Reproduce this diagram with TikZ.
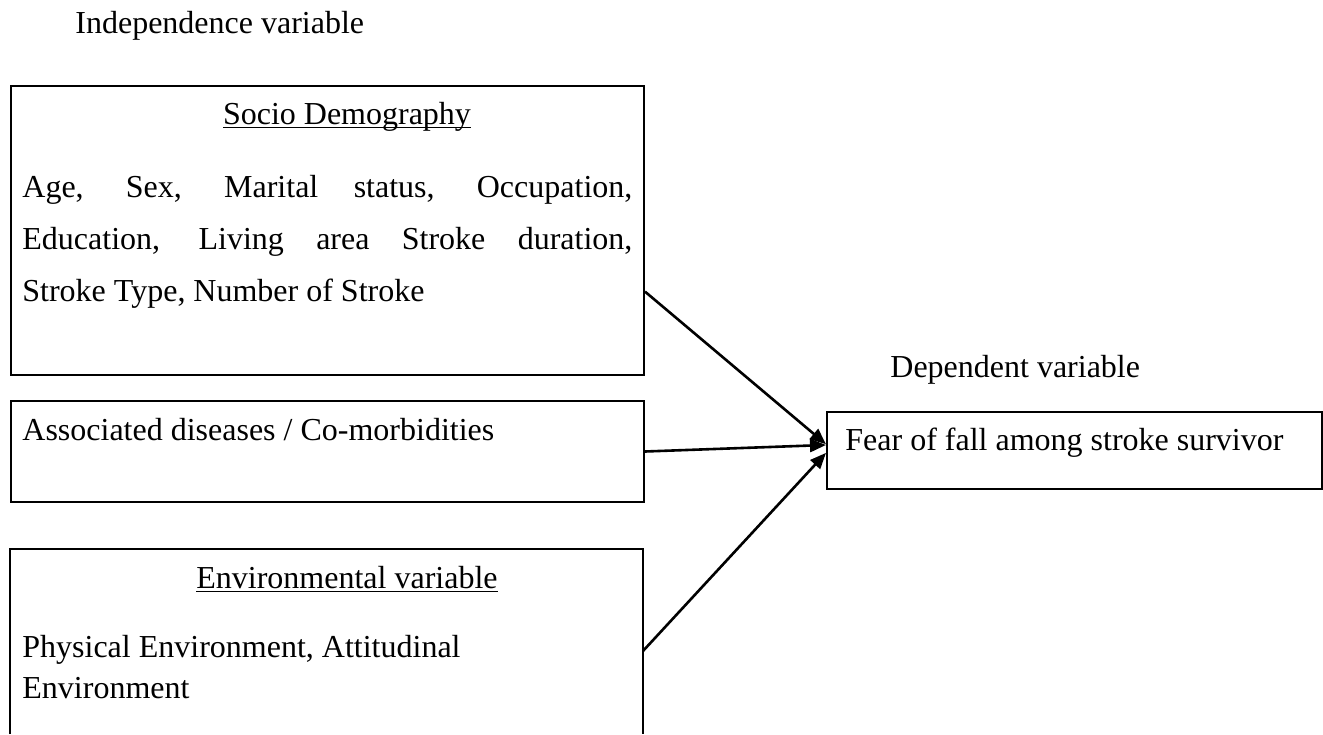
\documentclass[tikz,border=0pt]{standalone}
\usepackage{fontspec}
\setmainfont{Liberation Serif}
\usetikzlibrary{arrows.meta,calc}

% underline close to the baseline, as a word processor sets it
\newcommand\wordul[1]{\setbox0\hbox{#1}\rlap{\rule[-2.2pt]{\wd0}{0.8pt}}\box0}

\begin{document}
\begin{tikzpicture}[x=0.5pt, y=-0.5pt, font=\fontsize{16}{19}\selectfont,
  box/.style={draw, line width=1pt, inner sep=0, anchor=north west},
  txt/.style={inner sep=0, anchor=base west},
  link/.style={line width=1.3pt, -{Triangle[length=8pt, width=6.5pt]}}]
  \useasboundingbox (0,0) rectangle (1323,734);

  % headings
  \node[txt] (indep) at (75,33)  {Independence variable};
  \node[txt] (deph)  at (890,377) {Dependent variable};

  % independent variable boxes
  \node[box, minimum width=316.5pt, minimum height=144.5pt] (socio) at (10,85) {};
  \node[box, minimum width=316.5pt, minimum height=50.5pt]  (assoc) at (10,400) {};
  % environmental box runs off the bottom of the page
  \coordinate (envtl) at (10,549);
  \coordinate (envtr) at (643,549);
  \draw[line width=1pt] (10,734) -- (envtl) -- (envtr) -- (643,734);

  % dependent variable box
  \node[box, minimum width=247.5pt, minimum height=38.5pt] (dep) at (826,411) {};

  % texts in the boxes
  \node[inner sep=0, anchor=base] (sociot) at (347,124) {\wordul{Socio Demography}};
  \node[txt, text width=305pt, align=justify, font=\fontsize{16}{26}\selectfont] (sociol) at (22,197)
    {Age, Sex, Marital status, Occupation,\linebreak
     Education, Living area Stroke duration,\linebreak
     Stroke Type, Number of Stroke};
  \node[txt] (assoct) at (22,440) {Associated diseases / Co-morbidities};
  \node[inner sep=0, anchor=base] (envt) at (347,588) {\wordul{Environmental variable}};
  % base of a two-line node is its last line
  \node[txt, align=left, font=\fontsize{16}{20.5}\selectfont] (envl) at (22,698)
    {Physical Environment, Attitudinal\\Environment};
  \node[txt] (dept) at (845,450) {Fear of fall among stroke survivor};

  % arrows
  \coordinate (env) at (643,651);
  \draw[link] ($(socio.north east)!0.71!(socio.south east)$) -- ($(dep.north west)!0.42!(dep.south west)$);
  \draw[link] (assoc.east) -- ($(dep.north west)!0.43!(dep.south west)$);
  \draw[link] (env) -- ($(dep.north west)!0.53!(dep.south west)$);
\end{tikzpicture}
\end{document}
